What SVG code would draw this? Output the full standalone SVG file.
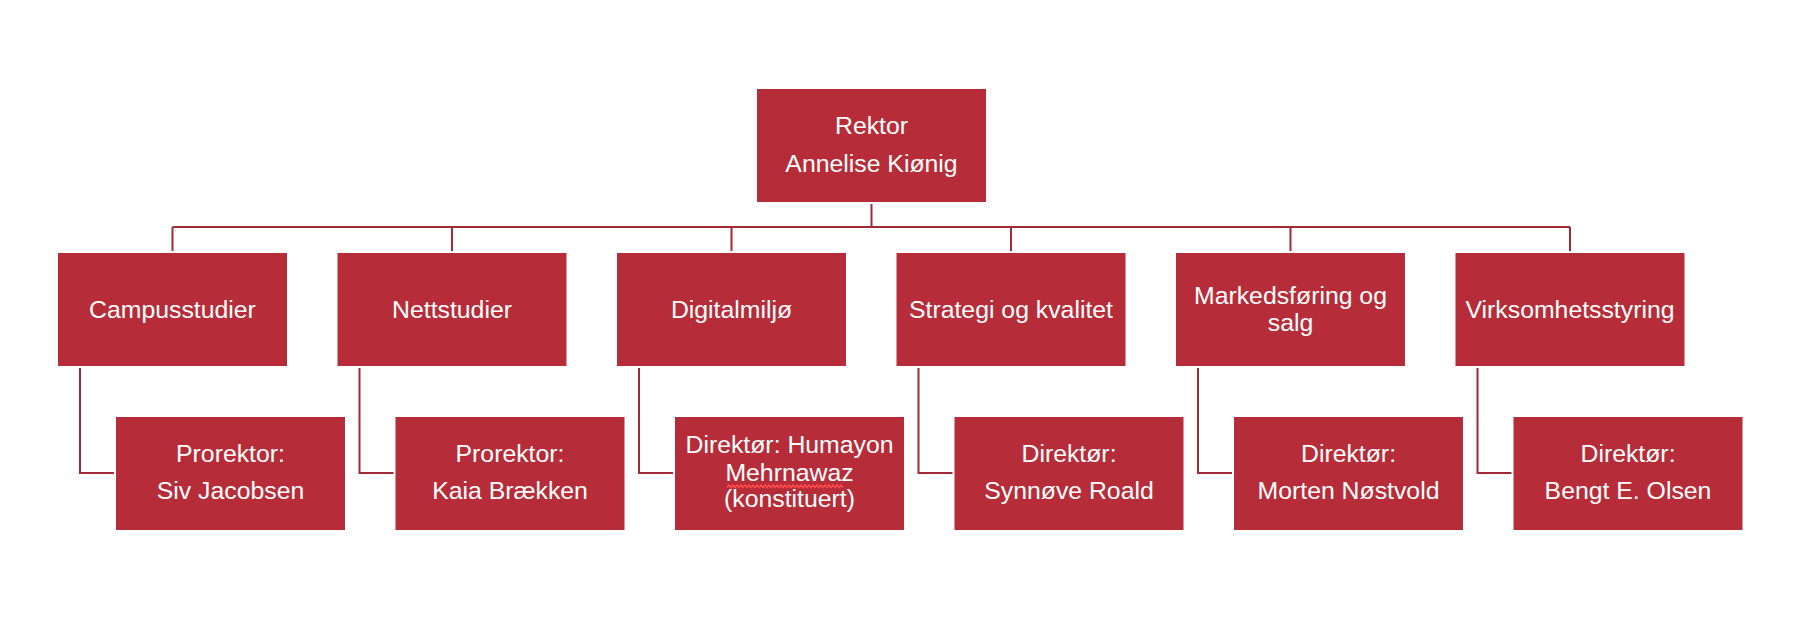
<svg xmlns="http://www.w3.org/2000/svg" width="1798" height="626" viewBox="0 0 1798 626">
<style>
.box{fill:#B62D39}
.t{font-family:"Liberation Sans",Arial,sans-serif;font-size:24.8px;fill:#FFFFFF;text-anchor:middle}
.c{fill:none;stroke:#A02A36;stroke-width:2}
.sq{fill:none;stroke:#FF4A4A;stroke-width:1.5}
</style>
<rect width="1798" height="626" fill="#FFFFFF"/>
<g id="connectors">
<path class="c" d="M871.5 204V227M172.5 227H1570M172.5 227V251M452 227V251M731.5 227V251M1011 227V251M1290.5 227V251M1570 227V251"/>
<path class="c" d="M80 368V473H114M359.5 368V473H393.5M639 368V473H673M918.5 368V473H952.5M1198 368V473H1232M1477.5 368V473H1511.5"/>
</g>
<g id="rektor">
<rect class="box" x="757" y="89" width="229" height="113"/>
<text class="t" x="871.5" y="134.3">Rektor</text>
<text class="t" x="871.5" y="172.3">Annelise Kiønig</text>
</g>
<g id="campusstudier">
<rect class="box" x="58" y="253" width="229" height="113"/>
<text class="t" x="172.5" y="317.5">Campusstudier</text>
</g>
<g id="nettstudier">
<rect class="box" x="337.5" y="253" width="229" height="113"/>
<text class="t" x="452" y="317.5">Nettstudier</text>
</g>
<g id="digitalmiljo">
<rect class="box" x="617" y="253" width="229" height="113"/>
<text class="t" x="731.5" y="317.5">Digitalmiljø</text>
</g>
<g id="strategi">
<rect class="box" x="896.5" y="253" width="229" height="113"/>
<text class="t" x="1011" y="317.5">Strategi og kvalitet</text>
</g>
<g id="markedsforing">
<rect class="box" x="1176" y="253" width="229" height="113"/>
<text class="t" x="1290.5" y="303.5">Markedsføring og</text>
<text class="t" x="1290.5" y="330.5">salg</text>
</g>
<g id="virksomhetsstyring">
<rect class="box" x="1455.5" y="253" width="229" height="113"/>
<text class="t" x="1570" y="317.5">Virksomhetsstyring</text>
</g>
<g id="siv">
<rect class="box" x="116" y="417" width="229" height="113"/>
<text class="t" x="230.5" y="461.5">Prorektor:</text>
<text class="t" x="230.5" y="499.3">Siv Jacobsen</text>
</g>
<g id="kaia">
<rect class="box" x="395.5" y="417" width="229" height="113"/>
<text class="t" x="510" y="461.5">Prorektor:</text>
<text class="t" x="510" y="499.3">Kaia Brækken</text>
</g>
<g id="humayon">
<rect class="box" x="675" y="417" width="229" height="113"/>
<text class="t" x="789.5" y="453.3">Direktør: Humayon</text>
<text class="t" x="789.5" y="480.5">Mehrnawaz</text>
<text class="t" x="789.5" y="507.3">(konstituert)</text>
<path class="sq" d="M727 487.5l2-2.5 2 2.5 2-2.5 2 2.5 2-2.5 2 2.5 2-2.5 2 2.5 2-2.5 2 2.5 2-2.5 2 2.5 2-2.5 2 2.5 2-2.5 2 2.5 2-2.5 2 2.5 2-2.5 2 2.5 2-2.5 2 2.5 2-2.5 2 2.5 2-2.5 2 2.5 2-2.5 2 2.5 2-2.5 2 2.5 2-2.5 2 2.5 2-2.5 2 2.5 2-2.5 2 2.5 2-2.5 2 2.5 2-2.5 2 2.5 2-2.5 2 2.5 2-2.5 2 2.5 2-2.5 2 2.5 2-2.5 2 2.5 2-2.5 2 2.5 2-2.5 2 2.5 2-2.5 2 2.5 2-2.5 2 2.5 2-2.5 2 2.5"/>
</g>
<g id="synnove">
<rect class="box" x="954.5" y="417" width="229" height="113"/>
<text class="t" x="1069" y="461.5">Direktør:</text>
<text class="t" x="1069" y="499.3">Synnøve Roald</text>
</g>
<g id="morten">
<rect class="box" x="1234" y="417" width="229" height="113"/>
<text class="t" x="1348.5" y="461.5">Direktør:</text>
<text class="t" x="1348.5" y="499.3">Morten Nøstvold</text>
</g>
<g id="bengt">
<rect class="box" x="1513.5" y="417" width="229" height="113"/>
<text class="t" x="1628" y="461.5">Direktør:</text>
<text class="t" x="1628" y="499.3">Bengt E. Olsen</text>
</g>
</svg>
